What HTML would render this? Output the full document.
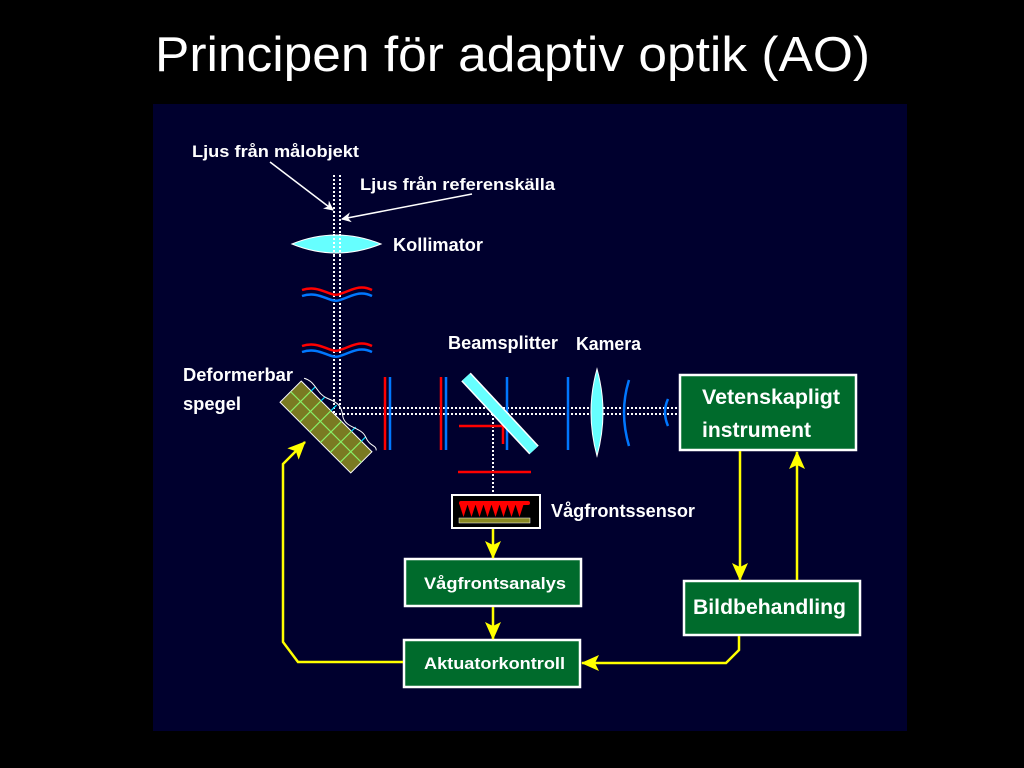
<!DOCTYPE html>
<html><head><meta charset="utf-8"><style>
html,body{margin:0;padding:0;background:#000;}
svg{display:block}
text{font-family:"Liberation Sans",Arial,sans-serif;}
</style></head><body>
<svg width="1024" height="768" viewBox="0 0 1024 768" xmlns="http://www.w3.org/2000/svg">
<defs>
<marker id="wa" markerWidth="10" markerHeight="10" refX="9" refY="5" orient="auto" markerUnits="userSpaceOnUse"><path d="M0,0 L10,5 L0,10 L3,5z" fill="#fff"/></marker>
<marker id="ya" markerWidth="18" markerHeight="16" refX="17" refY="8" orient="auto" markerUnits="userSpaceOnUse"><path d="M0,0 L18,8 L0,16 L4,8z" fill="#ffff00"/></marker>
</defs>
<rect width="1024" height="768" fill="#000"/>
<text x="155" y="71" font-size="49" fill="#fff" textLength="715" lengthAdjust="spacingAndGlyphs">Principen för adaptiv optik (AO)</text>
<rect x="153" y="104" width="754" height="627" fill="#00002e"/>

<g stroke="#fff" stroke-width="2" stroke-dasharray="2,2" fill="none">
<path d="M334,175 V414 H680"/>
<path d="M340,175 V408 H680"/>
<path d="M493,414 V494"/>
</g>

<g stroke="#fff" stroke-width="1.5" fill="none">
<line x1="270" y1="162" x2="333" y2="210" marker-end="url(#wa)"/>
<line x1="472" y1="194" x2="342" y2="219" marker-end="url(#wa)"/>
</g>

<path d="M292,244 Q336,226 381,244 Q336,262 292,244z" fill="#66ffff" stroke="#fff" stroke-width="1"/>
<g stroke="#fff" stroke-width="2" stroke-dasharray="2,2"><line x1="334" y1="234" x2="334" y2="256"/><line x1="340" y1="234" x2="340" y2="256"/></g>

<g fill="none" stroke-width="2.5">
<path d="M302,290 C320,284 330,298 340,294 C352,290 360,284 372,290" stroke="#ff0000"/>
<path d="M302,296 C320,290 330,304 340,300 C352,296 360,290 372,296" stroke="#0077ff"/>
<path d="M302,346 C320,340 330,354 340,350 C352,346 360,340 372,346" stroke="#ff0000"/>
<path d="M302,352 C320,346 330,360 340,356 C352,352 360,346 372,352" stroke="#0077ff"/>
</g>

<g transform="translate(326,427) rotate(45)">
<rect x="-50" y="-15" width="100" height="30" fill="#7a7a22" stroke="#fff" stroke-width="1"/>
<g stroke="#88ee66" stroke-width="1.2">
<line x1="-50" y1="0" x2="50" y2="0"/>
<line x1="-36" y1="-15" x2="-36" y2="15"/><line x1="-22" y1="-15" x2="-22" y2="15"/>
<line x1="-8" y1="-15" x2="-8" y2="15"/><line x1="7" y1="-15" x2="7" y2="15"/>
<line x1="21" y1="-15" x2="21" y2="15"/><line x1="35" y1="-15" x2="35" y2="15"/>
</g>
<g stroke="#00ddff" stroke-width="1.2">
<line x1="-36" y1="-15" x2="-36" y2="-21"/><line x1="-22" y1="-15" x2="-22" y2="-20"/>
<line x1="-8" y1="-15" x2="-8" y2="-23"/><line x1="21" y1="-15" x2="21" y2="-21"/><line x1="35" y1="-15" x2="35" y2="-21"/>
</g>
<path d="M-50,-19 C-40,-25 -30,-17 -20,-21 C-10,-25 -5,-27 5,-19 C15,-13 25,-25 35,-21 C45,-17 48,-23 52,-19" fill="none" stroke="#fff" stroke-width="1"/>
</g>

<g stroke-width="2.5">
<line x1="385" y1="377" x2="385" y2="450" stroke="#ff0000"/>
<line x1="390" y1="377" x2="390" y2="450" stroke="#0077ff"/>
<line x1="441" y1="377" x2="441" y2="450" stroke="#ff0000"/>
<line x1="446" y1="377" x2="446" y2="450" stroke="#0077ff"/>
<line x1="507" y1="377" x2="507" y2="450" stroke="#0077ff"/>
<line x1="568" y1="377" x2="568" y2="450" stroke="#0077ff"/>
<path d="M459,426 H503 V444" fill="none" stroke="#ff0000"/>
<line x1="458" y1="472" x2="531" y2="472" stroke="#ff0000"/>
</g>

<line x1="466" y1="377" x2="534" y2="450" stroke="#fff" stroke-width="13"/>
<line x1="466" y1="377" x2="534" y2="450" stroke="#66ffff" stroke-width="10"/>

<path d="M597,369 Q609,412 597,456 Q585,412 597,369z" fill="#66ffff" stroke="#fff" stroke-width="1"/>
<path d="M629,380 Q619,412 629,446" fill="none" stroke="#0077ff" stroke-width="2.5"/>
<path d="M668,399 Q662,412 668,426" fill="none" stroke="#0077ff" stroke-width="2.5"/>

<rect x="452" y="495" width="88" height="33" fill="#000" stroke="#fff" stroke-width="2"/>
<g fill="#ff0000">
<path d="M459,503 h9 l-4.5,14z"/><path d="M467,503 h9 l-4.5,14z"/><path d="M475,503 h9 l-4.5,14z"/><path d="M483,503 h9 l-4.5,14z"/>
<path d="M491,503 h9 l-4.5,14z"/><path d="M499,503 h9 l-4.5,14z"/><path d="M507,503 h9 l-4.5,14z"/><path d="M515,503 h9 l-4.5,14z"/>
<rect x="459" y="501" width="71" height="4" rx="2"/>
</g>
<rect x="459" y="518" width="71" height="5" fill="#888822" stroke="#fff" stroke-width="0.5"/>

<g fill="#006b2c" stroke="#fff" stroke-width="2.5">
<rect x="680" y="375" width="176" height="75"/>
<rect x="405" y="559" width="176" height="47"/>
<rect x="404" y="640" width="176" height="47"/>
<rect x="684" y="581" width="176" height="54"/>
</g>

<g stroke="#ffff00" stroke-width="2.5" fill="none">
<line x1="740" y1="451" x2="740" y2="580" marker-end="url(#ya)"/>
<line x1="797" y1="580" x2="797" y2="452" marker-end="url(#ya)"/>
<line x1="493" y1="529" x2="493" y2="558" marker-end="url(#ya)"/>
<line x1="493" y1="607" x2="493" y2="639" marker-end="url(#ya)"/>
<path d="M739,636 V650 L726,663 H582" marker-end="url(#ya)"/>
<path d="M403,662 H298 L283,642 V464 L305,442" marker-end="url(#ya)"/>
</g>

<g fill="#fff" font-weight="bold">
<text x="192" y="157" font-size="17" textLength="167" lengthAdjust="spacingAndGlyphs">Ljus från målobjekt</text>
<text x="360" y="190" font-size="17" textLength="195" lengthAdjust="spacingAndGlyphs">Ljus från referenskälla</text>
<text x="393" y="251" font-size="18" textLength="90" lengthAdjust="spacingAndGlyphs">Kollimator</text>
<text x="448" y="349" font-size="18" textLength="110" lengthAdjust="spacingAndGlyphs">Beamsplitter</text>
<text x="576" y="350" font-size="18" textLength="65" lengthAdjust="spacingAndGlyphs">Kamera</text>
<text x="183" y="381" font-size="18" textLength="110" lengthAdjust="spacingAndGlyphs">Deformerbar</text>
<text x="183" y="410" font-size="18" textLength="58" lengthAdjust="spacingAndGlyphs">spegel</text>
<text x="551" y="517" font-size="18" textLength="144" lengthAdjust="spacingAndGlyphs">Vågfrontssensor</text>
<text x="702" y="404" font-size="21" textLength="138" lengthAdjust="spacingAndGlyphs">Vetenskapligt</text>
<text x="702" y="437" font-size="21" textLength="109" lengthAdjust="spacingAndGlyphs">instrument</text>
<text x="424" y="589" font-size="17" textLength="142" lengthAdjust="spacingAndGlyphs">Vågfrontsanalys</text>
<text x="424" y="669" font-size="17" textLength="141" lengthAdjust="spacingAndGlyphs">Aktuatorkontroll</text>
<text x="693" y="614" font-size="21" textLength="153" lengthAdjust="spacingAndGlyphs">Bildbehandling</text>
</g>
</svg>
</body></html>
